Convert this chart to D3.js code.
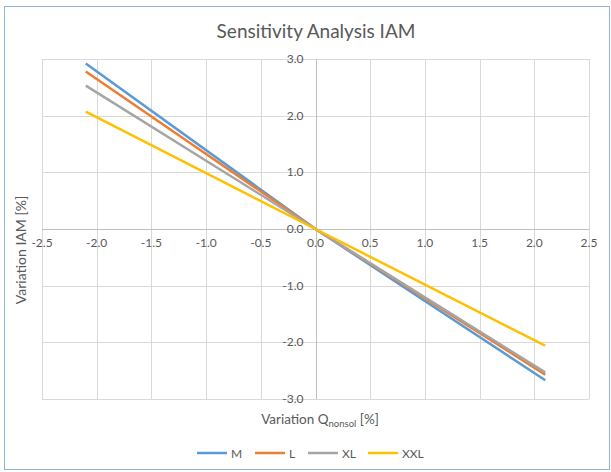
<!DOCTYPE html>
<html><head><meta charset="utf-8">
<script src="https://cdn.jsdelivr.net/npm/d3@7"></script>
<style>body{margin:0;background:#fff}svg{display:block}</style>
</head><body>
<svg id="c" width="611" height="472"></svg>
<script>
const xValues = [-2.1, 0, 2.1];
const seriesNames = ["M", "L", "XL", "XXL"];
const seriesM = [2.92, 0, -2.67];
const seriesL = [2.78, 0, -2.57];
const seriesXL = [2.53, 0, -2.53];
const seriesXXL = [2.07, 0, -2.06];
const xTicks = [-2.5, -2.0, -1.5, -1.0, -0.5, 0.0, 0.5, 1.0, 1.5, 2.0, 2.5];
const yTicks = [-3.0, -2.0, -1.0, 0.0, 1.0, 2.0, 3.0];
const colors = ["#5B9BD5", "#ED7D31", "#A5A5A5", "#FFC000"];
const allSeries = [seriesM, seriesL, seriesXL, seriesXXL];

const font = "Lato, 'Open Sans', sans-serif";
const svg = d3.select("#c");
svg.append("rect").attr("x", 4.5).attr("y", 6.5).attr("width", 605).attr("height", 463)
  .attr("fill", "#fff").attr("stroke", "#8EB4E3").attr("stroke-width", 1);

const x = d3.scaleLinear().domain([-2.5, 2.5]).range([42, 589]);
const y = d3.scaleLinear().domain([-3, 3]).range([399, 59]);

const g = svg.append("g");
// grid
g.selectAll(".vg").data(xTicks).join("line")
  .attr("x1", d => Math.round(x(d)) + 0.5).attr("x2", d => Math.round(x(d)) + 0.5)
  .attr("y1", y(3)).attr("y2", y(-3)).attr("stroke", "#D9D9D9").attr("stroke-width", 1);
g.selectAll(".hg").data(yTicks).join("line")
  .attr("y1", d => Math.round(y(d)) + 0.5).attr("y2", d => Math.round(y(d)) + 0.5)
  .attr("x1", x(-2.5)).attr("x2", x(2.5)).attr("stroke", "#D9D9D9").attr("stroke-width", 1);
// axis lines through zero
g.append("line").attr("x1", x(-2.5)).attr("x2", x(2.5)).attr("y1", Math.round(y(0)) + 0.5).attr("y2", Math.round(y(0)) + 0.5)
  .attr("stroke", "#BFBFBF");
g.append("line").attr("y1", y(3)).attr("y2", y(-3)).attr("x1", Math.round(x(0)) + 0.5).attr("x2", Math.round(x(0)) + 0.5)
  .attr("stroke", "#BFBFBF");

// tick labels
const fmt = v => d3.format(".1f")(v).replace("\u2212", "-");
g.selectAll(".xl").data(xTicks).join("text")
  .attr("x", d => x(d)).attr("y", y(0) + 18).attr("text-anchor", "middle")
  .attr("font-family", font).attr("font-size", 12).attr("fill", "#595959")
  .text(d => fmt(d));
g.selectAll(".yl").data(yTicks).join("text")
  .attr("x", x(0) - 12).attr("y", d => y(d) + 4).attr("text-anchor", "end")
  .attr("font-family", font).attr("font-size", 12).attr("fill", "#595959")
  .text(d => fmt(d));

// lines
const line = d3.line().x((d, i) => x(xValues[i])).y(d => y(d));
allSeries.forEach((s, i) => {
  g.append("path").attr("d", line(s)).attr("fill", "none")
    .attr("stroke", colors[i]).attr("stroke-width", 2.5);
});

// title
svg.append("text").attr("x", 316).attr("y", 38).attr("text-anchor", "middle")
  .attr("font-family", font).attr("font-size", 19).attr("fill", "#595959")
  .text("Sensitivity Analysis IAM");

// x axis title
const xt = svg.append("text").attr("x", 320).attr("y", 424).attr("text-anchor", "middle")
  .attr("font-family", font).attr("font-size", 13.5).attr("fill", "#595959");
xt.append("tspan").text("Variation Q");
xt.append("tspan").attr("font-size", 9.5).attr("dy", 3).text("nonsol");
xt.append("tspan").attr("dy", -3).text(" [%]");

// y axis title
svg.append("text").attr("transform", "translate(26,250) rotate(-90)").attr("text-anchor", "middle")
  .attr("font-family", font).attr("font-size", 14).attr("fill", "#595959")
  .text("Variation IAM [%]");

// legend
const legX = [197, 255, 308, 368];
seriesNames.forEach((n, i) => {
  svg.append("line").attr("x1", legX[i]).attr("x2", legX[i] + 30).attr("y1", 453).attr("y2", 453)
    .attr("stroke", colors[i]).attr("stroke-width", 2.5);
  svg.append("text").attr("x", legX[i] + 34).attr("y", 457.5)
    .attr("font-family", font).attr("font-size", 12).attr("fill", "#595959").text(n);
});
</script>
</body></html>
